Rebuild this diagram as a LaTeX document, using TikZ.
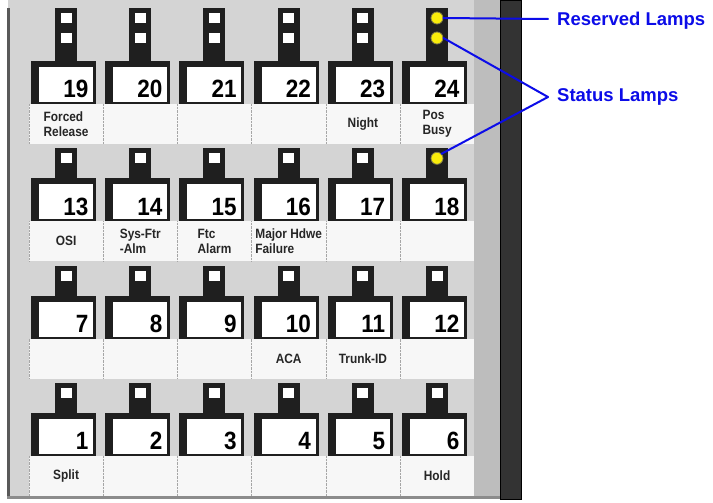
\documentclass[tikz,border=0pt]{standalone}
\usepackage{fontspec}
\setmainfont{Liberation Sans}
\newfontfamily\keyfont[FakeStretch=0.9]{Liberation Sans}
\newfontfamily\tagfont[FakeStretch=0.88]{Liberation Sans}
\usepackage{xcolor}
\usetikzlibrary{positioning}
\definecolor{calloutblue}{RGB}{12,12,232}
\definecolor{lampyellow}{RGB}{248,236,10}

\begin{document}
\begin{tikzpicture}[
    x=1pt, y=-1pt,
    panel/.style={fill=black!17},
    keybody/.style={fill=black!88},
    keyface/.style={fill=white},
    lampsq/.style={rectangle, fill=white, minimum width=11pt, minimum height=10pt, inner sep=0pt},
    lit/.style={circle, fill=lampyellow, draw=yellow!45!black, line width=0.8pt, minimum size=12pt, inner sep=0pt},
    keynum/.style={anchor=base east, inner sep=0pt, font=\keyfont\bfseries\fontsize{25}{25}\selectfont},
    tag/.style={align=left, inner sep=0pt, text=black!85, font=\tagfont\bfseries\fontsize{13.5}{15.5}\selectfont},
    callout/.style={inner sep=0pt, text=calloutblue, font=\bfseries\fontsize{18.5}{20}\selectfont},
    leader/.style={draw=calloutblue, line width=2pt, line cap=round}
]
\useasboundingbox (0,0) rectangle (713,503);
\fill[white] (0,0) rectangle (713,503);

% Panel
\fill[panel] (8,0) rectangle (500,498);
\fill[black!26] (474,0) rectangle (500,498);
\fill[black!65] (7,8) rectangle (10,498);
\fill[black!45] (7,496) rectangle (500,499);
\filldraw[fill=black!80, draw=black] (500,0) rectangle (521,499);

% Keys
\foreach \r in {0,...,3} {
  \pgfmathsetmacro{\T}{61+117.3*\r}
  \pgfmathsetmacro{\S}{ifthenelse(\r==0, 8, \T-30)}
  \fill[black!3] (29,\T+43) rectangle (474,\T+83);
  \foreach \c in {0,...,5} {
    \pgfmathsetmacro{\L}{31+74.2*\c}
    \pgfmathtruncatemacro{\n}{(3-\r)*6+\c+1}
    \draw[black!35, densely dotted] (\L-2,\T+43) -- (\L-2,\T+83);
    \fill[keybody] (\L+24,\S) rectangle (\L+46,\T+1);
    \fill[keybody] (\L,\T) rectangle (\L+65,\T+43);
    \fill[keyface] (\L+8,\T+6) rectangle (\L+62,\T+41);
    \node[keynum] (num\n) at (\L+57.5,\T+37) {\n};
    \node[lampsq] (lmp\n) at (\L+35,\S+10) {};
    \ifnum\r=0
      \node[lampsq] (lmpb\n) at (\L+35,\S+30) {};
    \fi
    \coordinate (cell\n) at (\L+35.1,\T+63);
  }
}

% Lit lamps
\foreach \m in {lmp24, lmpb24, lmp18}
  \node[lampsq, fill=black!88] at (\m) {};
\node[lit] (resv) at (lmp24) {};
\node[lit] (stat24) at (lmpb24) {};
\node[lit] (stat18) at (lmp18) {};

% Key labels
\foreach \n/\txt in {19/{Forced\\Release}, 23/Night, 24/{Pos\\Busy},
    13/OSI, 14/{Sys-Ftr\\-Alm}, 15/{Ftc\\Alarm}, 16/{Major Hdwe\\Failure},
    10/ACA, 11/Trunk-ID, 1/Split, 6/Hold}
  \node[tag] (tag\n) at (cell\n) {\txt};

% Callouts
\coordinate (rsvtip) at (548,19);
\coordinate (stattip) at (548,97);
\node[callout, right=9pt of rsvtip, yshift=-2pt] (rsvtxt) {Reserved Lamps};
\node[callout, right=9pt of stattip] (stattxt) {Status Lamps};

\draw[leader] (resv.east) -- (rsvtip);
\draw[leader] (stat24.east) -- (stattip);
\draw[leader] (stat18.north east) -- (stattip);

\end{tikzpicture}
\end{document}
